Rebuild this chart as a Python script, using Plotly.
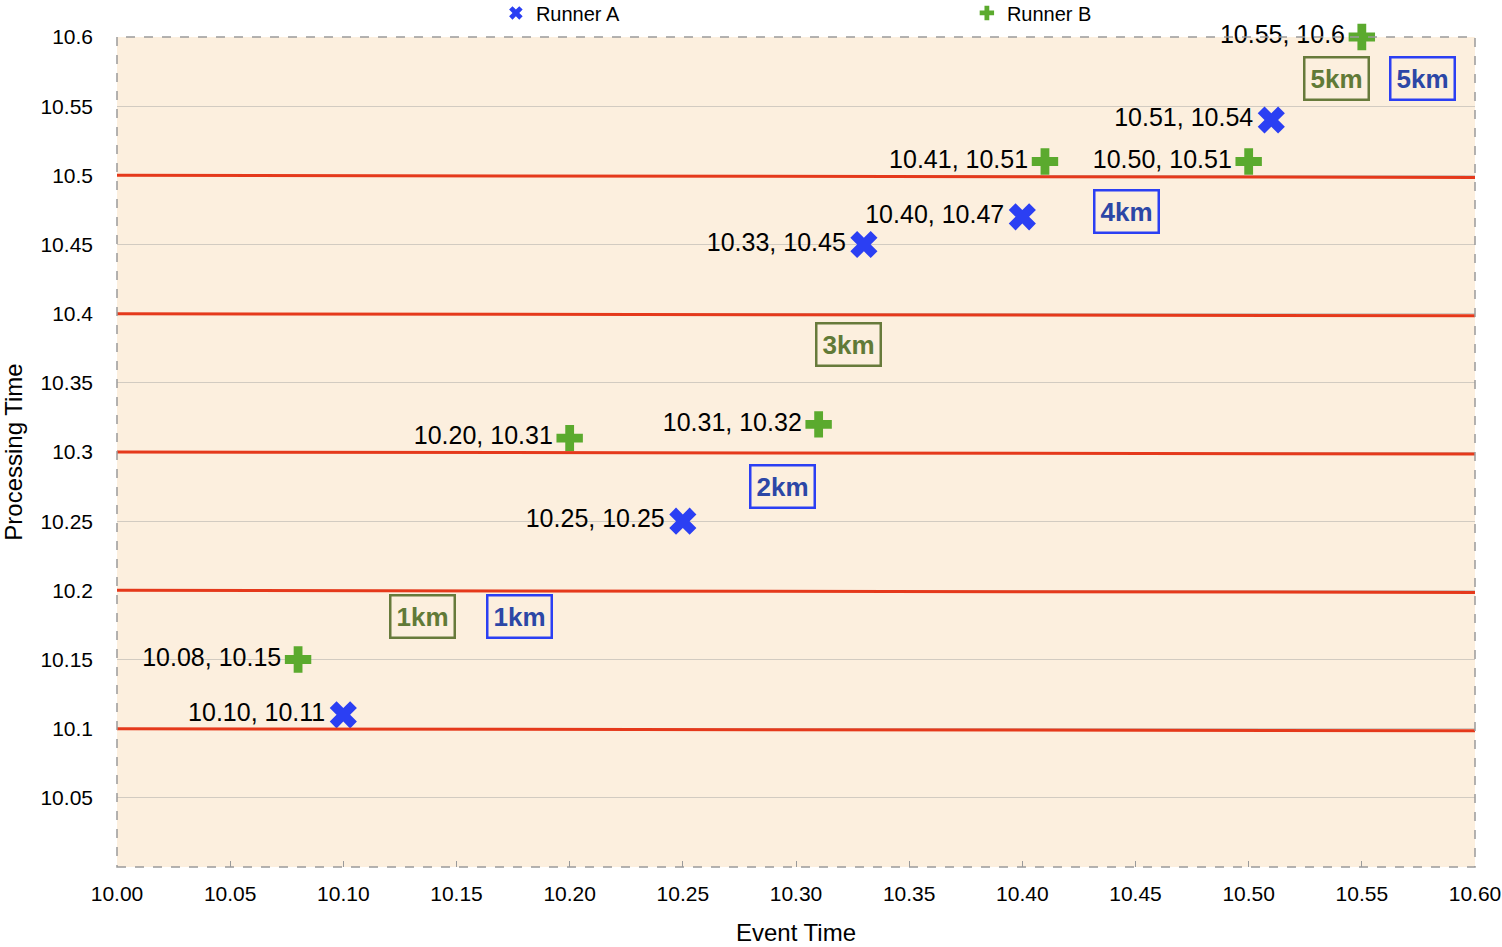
import plotly.graph_objects as go

# Data
runner_a_x = [10.10, 10.25, 10.33, 10.40, 10.51]
runner_a_y = [10.11, 10.25, 10.45, 10.47, 10.54]
runner_b_x = [10.08, 10.20, 10.31, 10.41, 10.50, 10.55]
runner_b_y = [10.15, 10.31, 10.32, 10.51, 10.51, 10.60]

watermark_levels = [10.1, 10.2, 10.3, 10.4, 10.5]
watermark_drift = -0.0015

km_labels = ["1km", "1km", "2km", "3km", "4km", "5km", "5km"]
km_runner = ["B", "A", "A", "B", "A", "B", "A"]
km_x = [10.135, 10.178, 10.294, 10.323, 10.446, 10.539, 10.577]
km_y = [10.181, 10.181, 10.275, 10.378, 10.474, 10.570, 10.570]

x_ticks = [10.00, 10.05, 10.10, 10.15, 10.20, 10.25, 10.30, 10.35, 10.40, 10.45, 10.50, 10.55, 10.60]
y_ticks = [10.05, 10.1, 10.15, 10.2, 10.25, 10.3, 10.35, 10.4, 10.45, 10.5, 10.55, 10.6]
y_ticktext = ["10.05", "10.1", "10.15", "10.2", "10.25", "10.3", "10.35", "10.4", "10.45", "10.5", "10.55", "10.6"]

FONT = "Liberation Sans, Arial, Helvetica, sans-serif"
BLUE = "#2B3FF3"
GREEN = "#5BAA2E"


def lab(x, y):
    return f"{x:.2f}, {y:g}\u200a"


fig = go.Figure()

fig.add_trace(go.Scatter(
    x=runner_a_x, y=runner_a_y, mode="markers+text", name="Runner A",
    marker=dict(symbol="x", size=24, color=BLUE, line=dict(width=0)),
    text=[lab(x, y) for x, y in zip(runner_a_x, runner_a_y)],
    textposition="middle left",
    textfont=dict(size=25, color="black", family=FONT),
    cliponaxis=False,
))
fig.add_trace(go.Scatter(
    x=runner_b_x, y=runner_b_y, mode="markers+text", name="Runner B",
    marker=dict(symbol="cross", size=22, color=GREEN, line=dict(width=0)),
    text=[lab(x, y) for x, y in zip(runner_b_x, runner_b_y)],
    textposition="middle left",
    textfont=dict(size=25, color="black", family=FONT),
    cliponaxis=False,
))

shapes = []
for lv in watermark_levels:
    shapes.append(dict(type="line", xref="x", yref="y", x0=10.0, x1=10.6015,
                       y0=lv, y1=lv + watermark_drift,
                       line=dict(color="#E5391B", width=3), layer="above"))
shapes.append(dict(type="rect", xref="paper", yref="paper", x0=0, x1=1, y0=0, y1=1,
                   line=dict(color="#9A9A9A", width=1.5, dash="dash"), layer="above"))
fig.update_layout(shapes=shapes)

for t, r, x, y in zip(km_labels, km_runner, km_x, km_y):
    if r == "A":
        fc, bc = "#2C47A6", "#2B3FF3"
    else:
        fc, bc = "#617A37", "#677A3B"
    fig.add_annotation(x=x, y=y, text=f"<b>{t}</b>", showarrow=False,
                       font=dict(size=26, color=fc, family=FONT),
                       bordercolor=bc, borderwidth=2.5, borderpad=5)

fig.update_layout(
    width=1502, height=947,
    margin=dict(l=117, r=27, t=37, b=80, autoexpand=False),
    paper_bgcolor="white",
    plot_bgcolor="#FCEFDE",
    font=dict(family=FONT, color="black", size=21),
    legend=dict(orientation="h", x=0.279, xanchor="left", y=1.029, yanchor="middle",
                font=dict(size=20), entrywidth=426, entrywidthmode="pixels",
                bgcolor="rgba(0,0,0,0)", itemsizing="constant"),
    xaxis=dict(range=[10.0, 10.6], tickvals=x_ticks, tickformat=".2f",
               showgrid=False, zeroline=False, showline=False,
               ticks="inside", ticklen=6, tickcolor="#9A9A9A",
               tickfont=dict(size=21), ticklabelstandoff=12,
               title=dict(text="Event Time", font=dict(size=24), standoff=20)),
    yaxis=dict(range=[10.0, 10.6], tickvals=y_ticks, ticktext=y_ticktext,
               showgrid=True, gridcolor="#D2CBC1", gridwidth=1, zeroline=False, showline=False,
               ticks="", tickfont=dict(size=21), ticklabelstandoff=23,
               title=dict(text="Processing Time", font=dict(size=24), standoff=12)),
)

fig.write_html("out.html")
